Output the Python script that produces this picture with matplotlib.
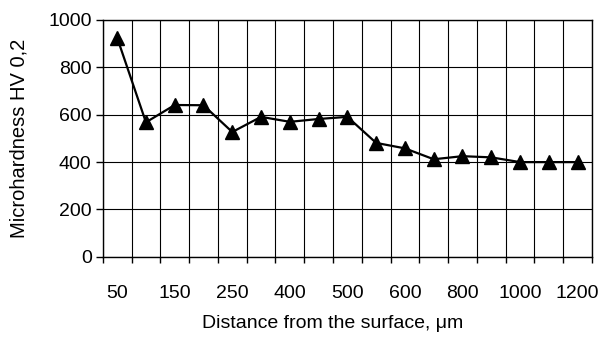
import numpy as np
import matplotlib.pyplot as plt

plt.rcParams['font.family'] = ['Liberation Sans', 'DejaVu Sans']

# distance from surface (um) and microhardness values
depth = [50, 100, 150, 200, 250, 300, 400, 450, 500, 550, 600, 700, 800, 900, 1000, 1100, 1200]
hardness = [925, 568, 641, 640, 527, 591, 570, 582, 591, 481, 458, 412, 425, 420, 400, 400, 400]
yticks = [0, 200, 400, 600, 800, 1000]

fig = plt.figure(figsize=(6.01, 3.38), dpi=100)
ax = fig.add_axes([0.171, 0.240, 0.814, 0.701])

x = np.arange(len(depth))
ax.plot(x, hardness, color='black', lw=1.6, marker='^', ms=10, zorder=3)

ax.set_xlim(-0.5, len(depth) - 0.5)
ax.set_ylim(0, 1000)

# category boundaries as grid lines (Excel style)
ax.set_xticks(np.arange(len(depth) + 1) - 0.5, minor=True)
ax.set_xticks(x[::2])
ax.set_xticklabels([str(d) for d in depth[::2]], fontsize=14)
ax.tick_params(axis='x', which='major', length=0, pad=20)
ax.tick_params(axis='x', which='minor', length=4, width=1, direction='out')
ax.grid(True, axis='x', which='minor', color='black', lw=0.8)

ax.set_yticks(yticks)
ax.set_yticklabels([str(v) for v in yticks], fontsize=14)
ax.tick_params(axis='y', length=5, width=1, direction='out', pad=3)
ax.grid(True, axis='y', which='major', color='black', lw=0.8)

for s in ax.spines.values():
    s.set_linewidth(1)

ax.set_xlabel('Distance from the surface, μm', fontsize=14)
ax.xaxis.set_label_coords(0.47, -0.245)
ax.set_ylabel('Microhardness HV 0,2', fontsize=14.5, labelpad=14)

fig.savefig('out.png', dpi=100)
